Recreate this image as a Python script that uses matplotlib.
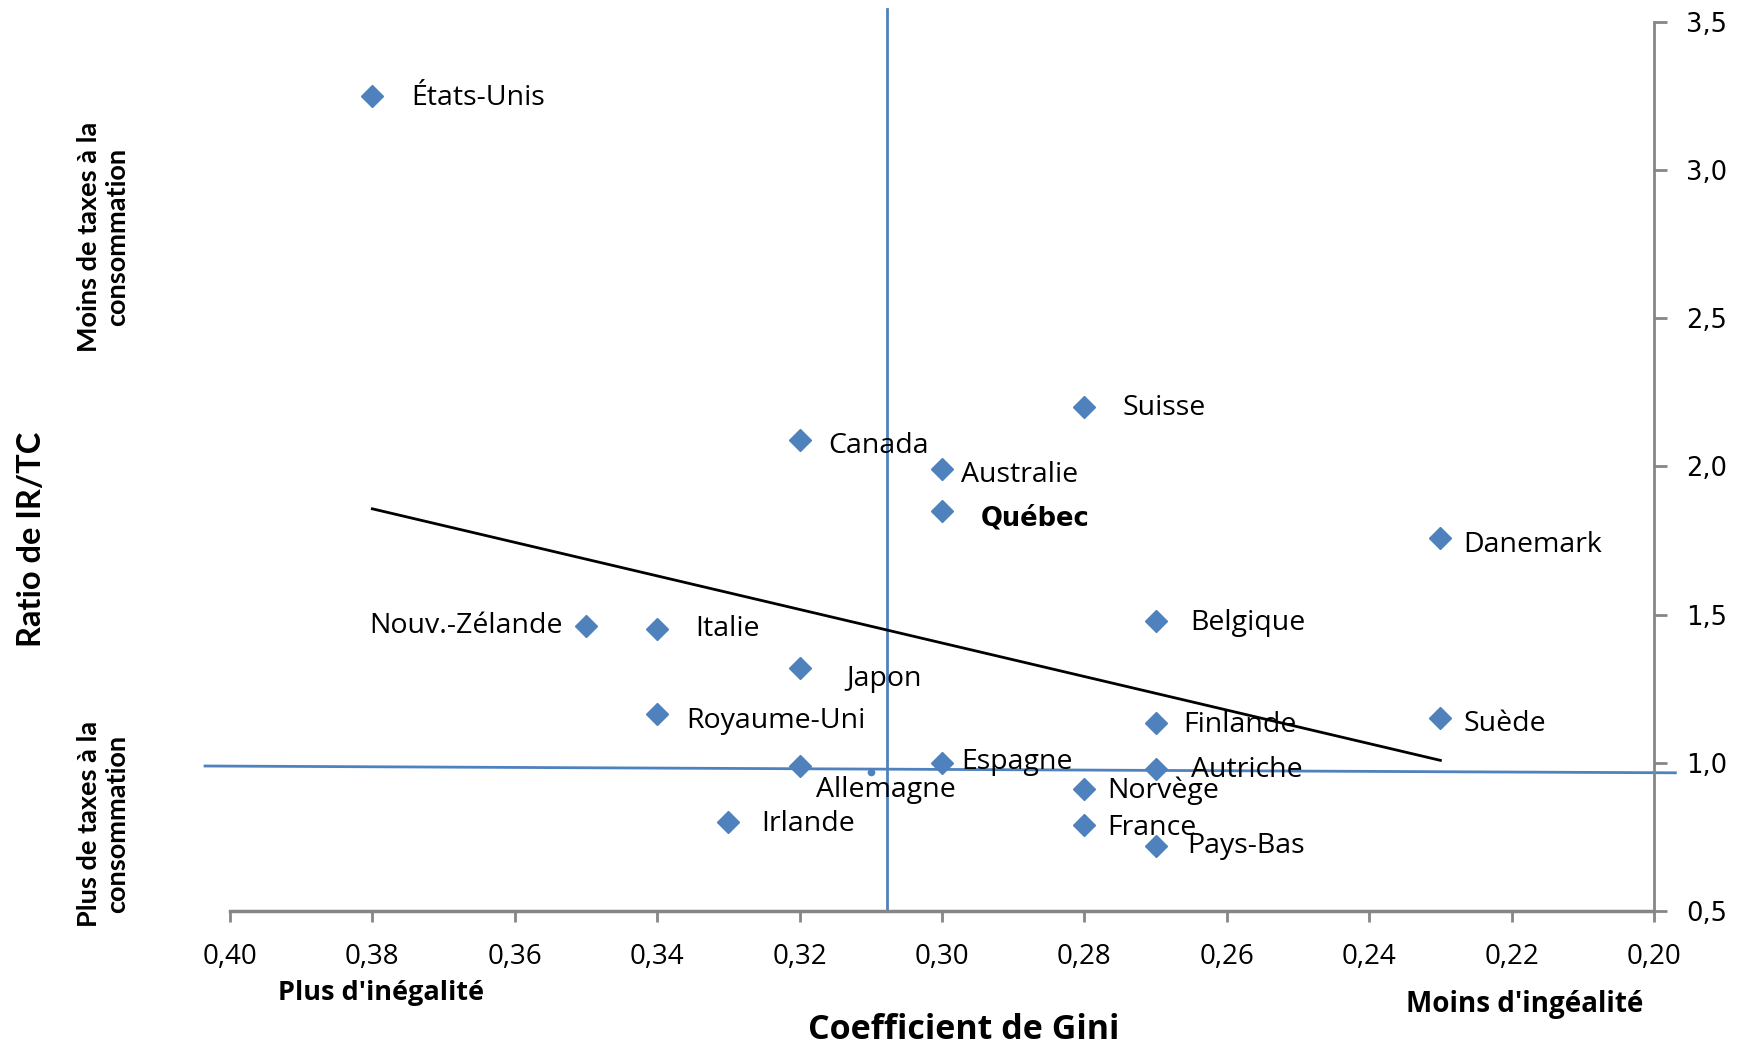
import matplotlib
matplotlib.use("Agg")
import matplotlib.pyplot as plt
from matplotlib.ticker import FuncFormatter

# Données
pays = ["États-Unis", "Suisse", "Canada", "Australie", "Québec", "Danemark",
        "Belgique", "Nouv.-Zélande", "Italie", "Japon", "Royaume-Uni",
        "Finlande", "Suède", "Allemagne", "Espagne", "Autriche", "Norvège",
        "France", "Irlande", "Pays-Bas"]
gini = [0.38, 0.28, 0.32, 0.30, 0.30, 0.23, 0.27, 0.35, 0.34, 0.32, 0.34,
        0.27, 0.23, 0.32, 0.30, 0.27, 0.28, 0.28, 0.33, 0.27]
ratio = [3.25, 2.20, 2.09, 1.99, 1.85, 1.76, 1.48, 1.46, 1.45, 1.32, 1.165,
         1.135, 1.15, 0.99, 1.00, 0.98, 0.91, 0.79, 0.80, 0.72]

# point moyen (petit point) et droites de référence
moyenne_x = [0.31]
moyenne_y = [0.97]
verticale_x = [0.3077, 0.3077]
verticale_y = [0.5, 3.545]
horizontale_x = [0.4035, 0.197]
horizontale_y = [0.989, 0.966]
tendance_x = [0.38, 0.23]
tendance_y = [1.857, 1.008]

x_ticks = [0.40, 0.38, 0.36, 0.34, 0.32, 0.30, 0.28, 0.26, 0.24, 0.22, 0.20]
y_ticks = [0.5, 1.0, 1.5, 2.0, 2.5, 3.0, 3.5]

# décalage des étiquettes (pixels) : (dx, dy, alignement)
decalages = {
    "États-Unis": (39, -2, "left"), "Suisse": (38, -1, "left"),
    "Canada": (29, -6, "left"), "Australie": (19, -6, "left"),
    "Québec": (39, -8, "left"), "Danemark": (23, -7, "left"),
    "Belgique": (35, -2, "left"), "Nouv.-Zélande": (-23, 0, "right"),
    "Italie": (38, 0, "left"), "Japon": (47, -11, "left"),
    "Royaume-Uni": (29, -7, "left"), "Finlande": (28, -2, "left"),
    "Suède": (23, -6, "left"), "Allemagne": (16, -24, "left"),
    "Espagne": (19, 1, "left"), "Autriche": (35, -1, "left"),
    "Norvège": (23, -1, "left"), "France": (23, -3, "left"),
    "Irlande": (33, -2, "left"), "Pays-Bas": (32, 0, "left"),
}

BLEU = "#4F81BD"
GRIS = "#868686"

fig = plt.figure(figsize=(17.46, 10.47), dpi=100)
ax = fig.add_axes([0.1317, 0.130, 0.8156, 0.849])

ax.plot(verticale_x, verticale_y, color=BLEU, lw=2, clip_on=False, zorder=2)
ax.plot(horizontale_x, horizontale_y, color=BLEU, lw=2, clip_on=False, zorder=2)
ax.plot(tendance_x, tendance_y, color="black", lw=2, zorder=2)
ax.plot(gini, ratio, linestyle="none", marker="D", ms=11, color=BLEU,
        markeredgecolor=BLEU, zorder=3)
ax.plot(moyenne_x, moyenne_y, linestyle="none", marker="o", ms=4.5, color=BLEU, zorder=3)

for nom, x, y in zip(pays, gini, ratio):
    dx, dy, ha = decalages[nom]
    if nom == "Québec":
        ax.annotate(nom, (x, y), xytext=(dx, dy), textcoords="offset pixels",
                    ha=ha, va="center", fontsize=18.5, fontweight="bold",
                    family="DejaVu Sans")
    else:
        ax.annotate(nom, (x, y), xytext=(dx, dy), textcoords="offset pixels",
                    ha=ha, va="center", fontsize=20.5, family="Open Sans")

ax.set_xlim(0.40, 0.20)
ax.set_ylim(0.5, 3.5)
ax.set_xticks(x_ticks)
ax.set_yticks(y_ticks)
ax.xaxis.set_major_formatter(FuncFormatter(lambda v, p: f"{v:.2f}".replace(".", ",")))
ax.yaxis.set_major_formatter(FuncFormatter(lambda v, p: f"{v:.1f}".replace(".", ",")))
ax.yaxis.tick_right()

for s in ["top", "left"]:
    ax.spines[s].set_visible(False)
ax.spines["bottom"].set_color(GRIS)
ax.spines["bottom"].set_linewidth(2.5)
ax.spines["right"].set_color(GRIS)
ax.spines["right"].set_linewidth(2)

ax.tick_params(axis="x", direction="out", length=8, width=2, color=GRIS, pad=15,
               labelsize=20, labelfontfamily="Open Sans")
ax.tick_params(axis="y", direction="out", length=9, width=2, color=GRIS, pad=14,
               labelsize=18.5, labelfontfamily="DejaVu Sans")

# titres et annotations
fig.text(0.0178, 0.485, "Ratio de IR/TC", rotation=90, ha="center", va="center",
         fontsize=23.5, fontweight="bold", family="Lato")
fig.text(0.059, 0.774, "Moins de taxes à la\nconsommation", rotation=90,
         ha="center", va="center", fontsize=19.5, fontweight="bold", family="Lato",
         linespacing=1.25)
fig.text(0.059, 0.213, "Plus de taxes à la\nconsommation", rotation=90,
         ha="center", va="center", fontsize=19.5, fontweight="bold", family="Lato",
         linespacing=1.25)
fig.text(0.218, 0.052, "Plus d'inégalité", ha="center", va="center",
         fontsize=19.5, fontweight="bold", family="Open Sans")
fig.text(0.873, 0.041, "Moins d'ingéalité", ha="center", va="center",
         fontsize=20, fontweight="bold", family="Open Sans")
fig.text(0.552, 0.016, "Coefficient de Gini", ha="center", va="center",
         fontsize=24.5, fontweight="bold", family="Open Sans")

fig.savefig("out.png", dpi=100)
